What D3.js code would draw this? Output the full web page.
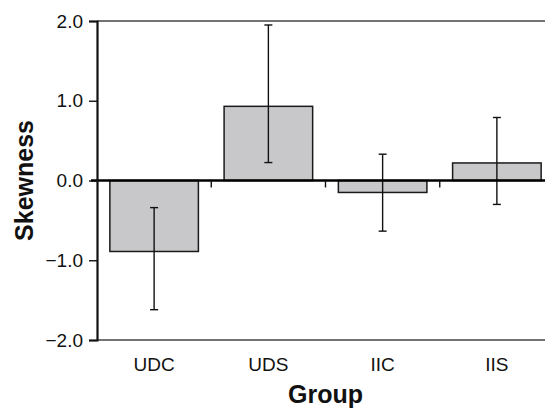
<!DOCTYPE html>
<html>
<head>
<meta charset="utf-8">
<script src="https://cdn.jsdelivr.net/npm/d3@7"></script>
<style>
  body { margin: 0; background: #fff; }
  text { font-family: Arial, "Liberation Sans", Helvetica, sans-serif; fill: #111; }
</style>
</head>
<body>
<script>
// data
var groups = ['UDC', 'UDS', 'IIC', 'IIS'];
var skewness = [-0.89, 0.93, -0.15, 0.22];
var errLow = [-1.62, 0.225, -0.635, -0.30];
var errHigh = [-0.34, 1.95, 0.33, 0.79];
var yTicks = [-2, -1, 0, 1, 2];

var margin = { top: 21, left: 97 };
var width = 457;   // plot runs past the right edge of the picture
var height = 319;

var svg = d3.select('body').append('svg')
	.attr('width', 545)
	.attr('height', 409);

var g = svg.append('g')
	.attr('transform', `translate(${margin.left}, ${margin.top})`);

var xScale = d3.scaleBand()
	.domain(groups)
	.range([0, width])
	.paddingInner(0.225)
	.paddingOuter(0.1125);

var yScale = d3.scaleLinear()
	.domain([-2, 2])
	.range([height, 0]);

// top and bottom frame lines
g.append('line')
	.attr('x1', 0).attr('x2', width)
	.attr('y1', 0).attr('y2', 0)
	.attr('stroke', '#444').attr('stroke-width', 1.4);
g.append('line')
	.attr('x1', 0).attr('x2', width)
	.attr('y1', height).attr('y2', height)
	.attr('stroke', '#444').attr('stroke-width', 1.4);

// bars
var data = groups.map(function(d, i) {
	return { k: d, v: skewness[i], lo: errLow[i], hi: errHigh[i] };
});

g.selectAll('rect.bar')
	.data(data)
	.enter().append('rect')
	.attr('class', 'bar')
	.attr('x', function(d) { return xScale(d.k); })
	.attr('width', xScale.bandwidth())
	.attr('y', function(d) { return yScale(Math.max(0, d.v)); })
	.attr('height', function(d) { return Math.abs(yScale(d.v) - yScale(0)); })
	.attr('fill', '#c8c8ca')
	.attr('stroke', '#1a1a1a')
	.attr('stroke-width', 1.5);

// error bars
var capW = 8;
var eb = g.selectAll('g.err')
	.data(data)
	.enter().append('g')
	.attr('class', 'err')
	.attr('transform', function(d) { return `translate(${xScale(d.k) + xScale.bandwidth() / 2}, 0)`; });

eb.append('line')
	.attr('y1', function(d) { return yScale(d.lo); })
	.attr('y2', function(d) { return yScale(d.hi); })
	.attr('stroke', '#111').attr('stroke-width', 1.4);
eb.append('line')
	.attr('x1', -capW / 2).attr('x2', capW / 2)
	.attr('y1', function(d) { return yScale(d.hi); })
	.attr('y2', function(d) { return yScale(d.hi); })
	.attr('stroke', '#111').attr('stroke-width', 1.4);
eb.append('line')
	.attr('x1', -capW / 2).attr('x2', capW / 2)
	.attr('y1', function(d) { return yScale(d.lo); })
	.attr('y2', function(d) { return yScale(d.lo); })
	.attr('stroke', '#111').attr('stroke-width', 1.4);

// zero line with small ticks between groups
g.append('line')
	.attr('x1', -6).attr('x2', width)
	.attr('y1', yScale(0)).attr('y2', yScale(0))
	.attr('stroke', '#000').attr('stroke-width', 2.5);

var bounds = groups.slice(1).map(function(d) {
	return xScale(d) - xScale.step() * xScale.paddingInner() / 2;
});
g.selectAll('line.sep')
	.data(bounds)
	.enter().append('line')
	.attr('class', 'sep')
	.attr('x1', function(d) { return d; })
	.attr('x2', function(d) { return d; })
	.attr('y1', yScale(0))
	.attr('y2', yScale(0) + 7)
	.attr('stroke', '#111').attr('stroke-width', 1.4);

// y axis
var yAxis = g.append('g')
	.call(d3.axisLeft(yScale)
		.tickValues(yTicks)
		.tickFormat(d3.format('.1f'))
		.tickSize(8)
		.tickPadding(6));
yAxis.select('.domain').attr('stroke', '#111').attr('stroke-width', 2.2);
yAxis.selectAll('.tick line').attr('stroke', '#111').attr('stroke-width', 1.4);
yAxis.selectAll('text')
	.style('font-size', '19px')
	.style('font-family', 'Arial, "Liberation Sans", sans-serif')
	.attr('fill', '#111');

// category labels
g.selectAll('text.cat')
	.data(groups)
	.enter().append('text')
	.attr('class', 'cat')
	.attr('x', function(d) { return xScale(d) + xScale.bandwidth() / 2; })
	.attr('y', 350)
	.attr('text-anchor', 'middle')
	.style('font-size', '19px')
	.text(function(d) { return d; });

// axis titles
g.append('text')
	.attr('x', width / 2)
	.attr('y', 382)
	.attr('text-anchor', 'middle')
	.style('font-size', '25px')
	.style('font-weight', 'bold')
	.text('Group');

svg.append('text')
	.attr('transform', `translate(33, ${margin.top + height / 2}) rotate(-90)`)
	.attr('text-anchor', 'middle')
	.style('font-size', '25px')
	.style('font-weight', 'bold')
	.text('Skewness');
</script>
</body>
</html>
